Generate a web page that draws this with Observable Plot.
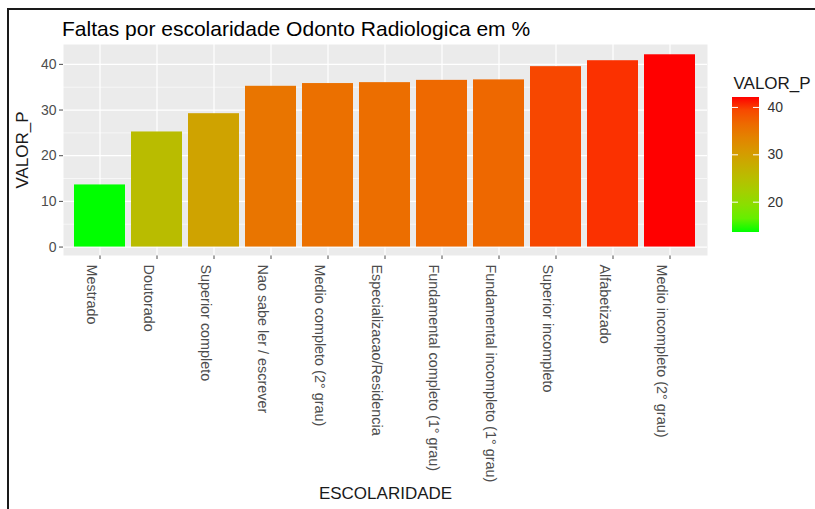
<!DOCTYPE html>
<html>
<head>
<meta charset="utf-8">
<script src="https://cdn.jsdelivr.net/npm/d3@7"></script>
<script src="https://cdn.jsdelivr.net/npm/@observablehq/plot@0.6"></script>
<style>
  html, body { margin: 0; padding: 0; background: #fff; }
  #wrap { position: relative; width: 815px; height: 509px; overflow: hidden; font-family: "Liberation Sans", Arial, sans-serif; }
  #frame { position: absolute; left: 7px; top: 8px; width: 820px; height: 520px; border-left: 2px solid #1a1a1a; border-top: 2px solid #1a1a1a; }
  #title { position: absolute; left: 62px; top: 18px; font-size: 21px; line-height: 21px; color: #000; white-space: nowrap; }
  #main { position: absolute; left: 0; top: 40px; }
  #legend { position: absolute; left: 720px; top: 60px; }
</style>
</head>
<body>
<div id="wrap">
  <div id="frame"></div>
  <div id="title">Faltas por escolaridade Odonto Radiologica em %</div>
  <div id="main"></div>
  <div id="legend"></div>
</div>
<script>
const categories = [
  "Mestrado",
  "Doutorado",
  "Superior completo",
  "Nao sabe ler / escrever",
  "Medio completo (2° grau)",
  "Especializacao/Residencia",
  "Fundamental completo (1° grau)",
  "Fundamental incompleto (1° grau)",
  "Superior incompleto",
  "Alfabetizado",
  "Medio incompleto (2° grau)"
];
const valores = [13.6, 25.2, 29.2, 35.2, 35.8, 36.0, 36.5, 36.6, 39.5, 40.8, 42.1];
const yTicks = [0, 10, 20, 30, 40];
const yMinorTicks = [5, 15, 25, 35];
const legendTicks = [20, 30, 40];
const xTitle = "ESCOLARIDADE";
const yTitle = "VALOR_P";
const legendTitle = "VALOR_P";

const data = categories.map((c, i) => ({ESCOLARIDADE: c, VALOR_P: valores[i]}));
const extent = d3.extent(valores);
const lowColor = "#00ff00", highColor = "#ff0000";

const font = "'Liberation Sans', Arial, sans-serif";

const main = Plot.plot({
  width: 815,
  height: 469,
  marginTop: 4,
  marginBottom: 254,
  marginLeft: 63,
  marginRight: 108,
  style: {fontFamily: font, fontSize: "14px", color: "#4d4d4d", background: "transparent", overflow: "visible"},
  x: {domain: categories, paddingInner: 0.1, paddingOuter: 0.15, align: 0.5, tickSize: 4, tickPadding: 5, tickFormat: () => "", label: null},
  y: {domain: [-1.85, 44.35], ticks: yTicks, tickSize: 4, tickPadding: 3, label: null},
  color: {type: "linear", domain: extent, range: [lowColor, highColor], interpolate: "lab"},
  marks: [
    Plot.frame({fill: "#ebebeb", stroke: null}),
    Plot.ruleY(yMinorTicks, {stroke: "#ffffff", strokeWidth: 0.6}),
    Plot.ruleY(yTicks, {stroke: "#ffffff", strokeWidth: 1.2}),
    Plot.ruleX(categories, {x: d => d, stroke: "#ffffff", strokeWidth: 1.2}),
    Plot.barY(data, {x: "ESCOLARIDADE", y: "VALOR_P", fill: "VALOR_P"}),
    Plot.text(categories, {x: d => d, text: d => d, frameAnchor: "bottom", dy: 9, dx: -8, rotate: 90,
      textAnchor: "start", lineAnchor: "middle", fontSize: 14.4, fill: "#4d4d4d"}),
    Plot.text([xTitle], {frameAnchor: "bottom", dy: 243, textAnchor: "middle", fontSize: 17, fill: "#1a1a1a"}),
    Plot.text([yTitle], {frameAnchor: "left", dx: -41, rotate: -90, textAnchor: "middle", lineAnchor: "middle", fontSize: 17, fill: "#1a1a1a"})
  ]
});
document.getElementById("main").appendChild(main);

const legend = Plot.plot({
  width: 95,
  height: 180,
  marginTop: 37,
  marginBottom: 8,
  marginLeft: 12,
  marginRight: 56,
  style: {fontFamily: font, fontSize: "14px", color: "#333", background: "transparent", overflow: "visible"},
  y: {domain: extent, axis: "right", ticks: legendTicks, tickSize: 0, tickPadding: 8, label: null},
  marks: [
    Plot.rect([{y1: extent[0], y2: extent[1]}], {y1: "y1", y2: "y2", fill: "url(#valorGrad)"}),
    Plot.ruleY(legendTicks, {stroke: "#ffffff", strokeWidth: 1, insetRight: 21}),
    Plot.ruleY(legendTicks, {stroke: "#ffffff", strokeWidth: 1, insetLeft: 21}),
    Plot.text([legendTitle], {frameAnchor: "top-left", dx: 1, dy: -14, textAnchor: "start", lineAnchor: "middle", fontSize: 17, fill: "#1a1a1a"})
  ]
});
const lsvg = d3.select(legend.tagName.toLowerCase() === "svg" ? legend : legend.querySelector("svg"));
const grad = lsvg.insert("defs", ":first-child").append("linearGradient")
  .attr("id", "valorGrad").attr("x1", 0).attr("y1", 1).attr("x2", 0).attr("y2", 0);
const interp = d3.interpolateLab(lowColor, highColor);
d3.range(0, 11).forEach(i => {
  grad.append("stop").attr("offset", i / 10).attr("stop-color", interp(i / 10));
});
document.getElementById("legend").appendChild(legend);
</script>
</body>
</html>
